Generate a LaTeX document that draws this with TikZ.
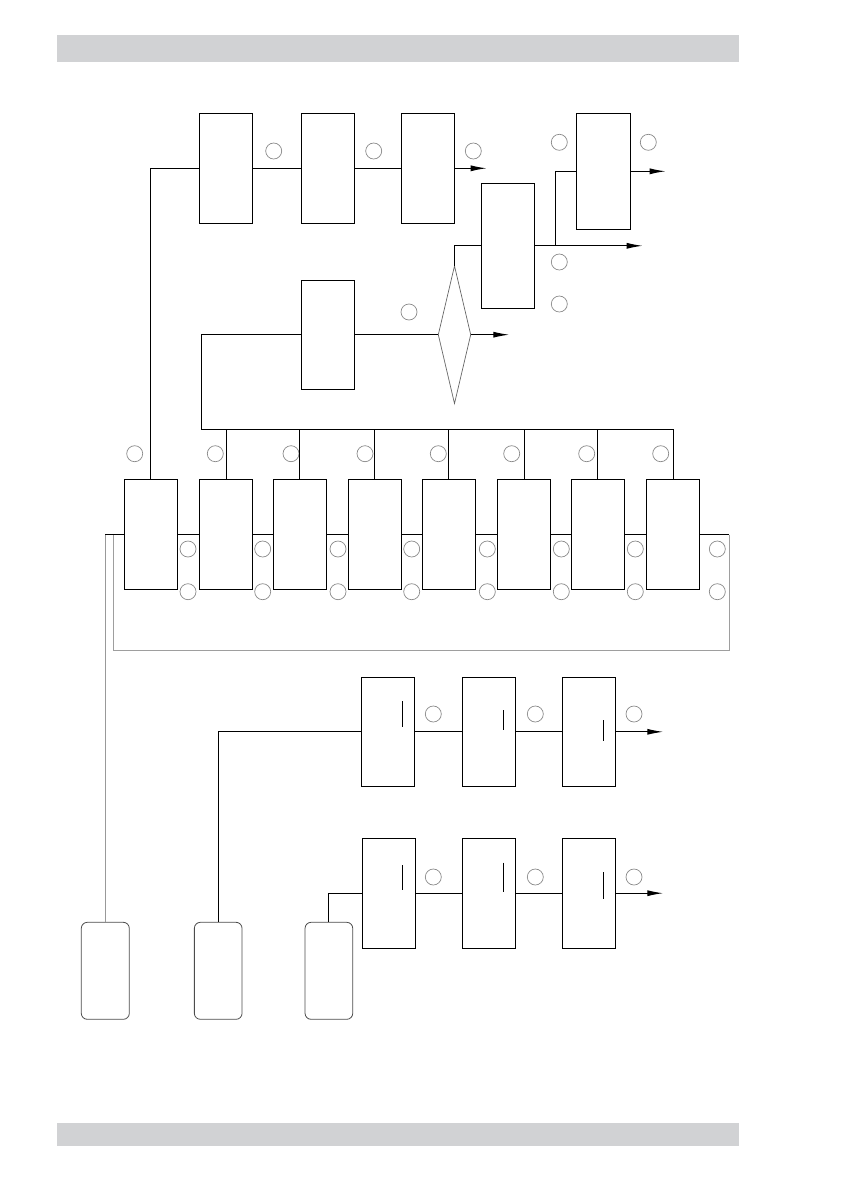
\documentclass[tikz,border=0pt]{standalone}
\usetikzlibrary{shapes.geometric,arrows.meta}
\definecolor{barfill}{HTML}{D1D2D4}
\definecolor{ringgray}{HTML}{8A8A8A}
\definecolor{loopgray}{HTML}{9E9E9E}
\begin{document}
\begin{tikzpicture}[x=1pt,y=-1pt,
  blk/.style={draw=black,line width=1.1pt,minimum width=53pt,minimum height=109pt,inner sep=0pt,outer sep=0pt},
  ring/.style={circle,draw=ringgray,line width=0.7pt,minimum size=16pt,inner sep=0pt},
  wire/.style={draw=black,line width=1.1pt},
  gwire/.style={draw=loopgray,line width=1.1pt},
  arr/.style={wire,-{Latex[length=16pt,width=6pt]}},
  srcbox/.style={draw=black!70,line width=0.8pt,rounded corners=6pt,minimum width=48pt,minimum height=97pt,inner sep=0pt,outer sep=0pt},
  bar/.style={fill=barfill,draw=none}]
\useasboundingbox (0,0) rectangle (843,1191);
% gray bars
\path[bar] (57,35) rectangle (739,62);
\path[bar] (57,1123) rectangle (739,1146);

% top chain
\node[blk,minimum height=110pt] (A) at (225.8,168.3) {};
\node[blk,minimum height=110pt] (B) at (327.8,168.3) {};
\node[blk,minimum height=110pt] (C) at (427.8,168.3) {};
\node[blk,minimum height=125pt] (D) at (508,245.8) {};
\node[blk,minimum height=116pt,minimum width=54pt] (E) at (603.3,171.3) {};
\node[blk,minimum height=109pt] (F) at (327.8,334.7) {};
\node[diamond,draw=black!60,line width=0.7pt,minimum width=32.4pt,minimum height=137.6pt,inner sep=0pt,outer sep=0pt] (dia) at (454.5,334.7) {};

\node[ring] (cA) at (273.7,151) {};
\node[ring] (cB) at (373.7,151) {};
\node[ring] (cC) at (473.3,151) {};
\node[ring] (cE1) at (559.3,142.3) {};
\node[ring] (cE2) at (648.3,142.3) {};
\node[ring] (cD1) at (559.3,262) {};
\node[ring] (cD2) at (559.3,304) {};
\node[ring] (cF) at (409,312) {};

\coordinate (Cout) at (486.7,168.3);
\coordinate (Dout) at (642.7,245.8);
\coordinate (Eout) at (665.7,171.3);
\coordinate (diaout) at (509.3,334.7);
\coordinate (split) at (555.3,245.8);
\coordinate (bus) at (201.5,429.3);

\draw[wire] (A.east) -- (B.west);
\draw[wire] (B.east) -- (C.west);
\draw[arr] (C.east) -- (Cout);
\draw[wire] (F.east) -- (dia.west);
\draw[arr] (dia.east) -- (diaout);
\draw[wire] (dia.north) |- (D.west);
\draw[arr] (D.east) -- (Dout);
\draw[wire] (split) |- (E.west);
\draw[arr] (E.east) -- (Eout);

% bottom row of eight
\foreach \i/\x in {1/150.8,2/226.2,3/299.8,4/374.8,5/448.8,6/524.2,7/597.8,8/673.2}{
  \node[blk,minimum height=109.5pt] (b\i) at (\x,534.5) {};
}
\foreach \i/\x in {1/134.7,2/215.3,3/291,4/365,5/438.3,6/511.7,7/586.7,8/660.7}{
  \node[ring] (t\i) at (\x,453.7) {};
}
\foreach \i/\x in {1/188,2/262.7,3/338,4/411.7,5/487.3,6/561.3,7/635.3,8/717.3}{
  \node[ring] (u\i) at (\x,549) {};
  \node[ring] (l\i) at (\x,591.7) {};
}
\draw[wire] (A.west) -| (b1.north);
\draw[wire] (F.west) -| (bus) -| (b8.north);
\foreach \i in {2,...,7}{
  \draw[wire] (b\i.north) -- (b\i.north |- bus);
}
\foreach \i/\j in {1/2,2/3,3/4,4/5,5/6,6/7,7/8}{
  \draw[wire] (b\i.east) -- (b\j.west);
}
\coordinate (loopin) at (113.7,534.5);
\coordinate (loopcorner) at (729.3,650.7);

% lower chains
\node[blk] (G1) at (387.8,731.8) {};
\node[blk] (G2) at (488.8,731.8) {};
\node[blk] (G3) at (588.8,731.8) {};
\node[blk,minimum height=109.7pt] (H1) at (388.8,893.2) {};
\node[blk,minimum height=109.7pt] (H2) at (488.8,893.2) {};
\node[blk,minimum height=109.7pt] (H3) at (588.8,893.2) {};
\draw[wire] (402.3,701) -- (402.3,727.3);
\draw[wire] (503.3,710) -- (503.3,730);
\draw[wire] (603.3,720) -- (603.3,741);
\draw[wire] (402.3,865) -- (402.3,890);
\draw[wire] (503.3,862.7) -- (503.3,891.7);
\draw[wire] (603.3,872) -- (603.3,899.3);
\node[ring] (g1) at (433.3,714) {};
\node[ring] (g2) at (535.3,714) {};
\node[ring] (g3) at (634,714) {};
\node[ring] (h1) at (433.3,877) {};
\node[ring] (h2) at (535.3,877) {};
\node[ring] (h3) at (634,877) {};
\coordinate (Gout) at (663.3,731.8);
\coordinate (Hout) at (663.3,893.2);
\draw[wire] (G1.east) -- (G2.west);
\draw[wire] (G2.east) -- (G3.west);
\draw[arr] (G3.east) -- (Gout);
\draw[wire] (H1.east) -- (H2.west);
\draw[wire] (H2.east) -- (H3.west);
\draw[arr] (H3.east) -- (Hout);

% rounded sources
\node[srcbox] (R1) at (105.3,970.8) {};
\node[srcbox,minimum width=47.7pt] (R2) at (218.2,970.8) {};
\node[srcbox,minimum width=47.7pt] (R3) at (328.9,970.8) {};

\draw[wire] (b1.west) -- (R1.north |- b1.west);
\draw[gwire,draw=black!40,line width=1.3pt] (R1.north |- b1.west) -- (R1.north);
\draw[wire] (b8.east) -- (loopcorner |- b8.east);
\draw[gwire] (loopcorner |- b8.east) -- (loopcorner) -| (loopin);
\draw[wire] (G1.west) -| (R2.north);
\draw[wire] (H1.west) -| (R3.north);
\end{tikzpicture}
\end{document}
